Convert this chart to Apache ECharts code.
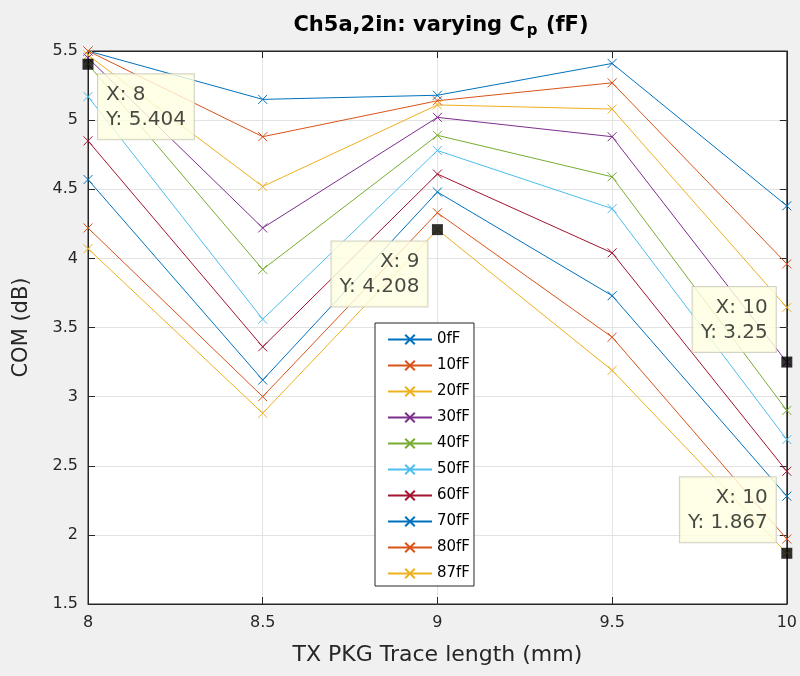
<!DOCTYPE html>
<html>
<head>
<meta charset="utf-8">
<script src="https://cdn.jsdelivr.net/npm/echarts@6/dist/echarts.min.js"></script>
<style>
  html, body { margin: 0; padding: 0; background: #f0f0f0; }
  #chart { width: 800px; height: 676px; }
</style>
</head>
<body>
<div id="chart"></div>
<script>
// TX package trace length (mm)
var traceLength = [8, 8.5, 9, 9.5, 10];

// COM (dB) for each pad capacitance Cp
var seriesNames = ['0fF', '10fF', '20fF', '30fF', '40fF', '50fF', '60fF', '70fF', '80fF', '87fF'];
var com0fF  = [5.50, 5.15, 5.18, 5.41, 4.38];
var com10fF = [5.50, 4.88, 5.14, 5.27, 3.96];
var com20fF = [5.47, 4.52, 5.11, 5.08, 3.645];
var com30fF = [5.45, 4.22, 5.02, 4.88, 3.25];
var com40fF = [5.404, 3.92, 4.89, 4.59, 2.90];
var com50fF = [5.17, 3.56, 4.78, 4.36, 2.69];
var com60fF = [4.85, 3.36, 4.61, 4.04, 2.46];
var com70fF = [4.57, 3.12, 4.48, 3.73, 2.28];
var com80fF = [4.22, 3.00, 4.33, 3.43, 1.97];
var com87fF = [4.07, 2.88, 4.208, 3.19, 1.867];

var xTicks = [8, 8.5, 9, 9.5, 10];
var yTicks = [1.5, 2, 2.5, 3, 3.5, 4, 4.5, 5, 5.5];

var allSeries = [com0fF, com10fF, com20fF, com30fF, com40fF, com50fF, com60fF, com70fF, com80fF, com87fF];

// MATLAB default line color order
var palette = ['#0072BD', '#D95319', '#EDB120', '#7E2F8E', '#77AC30', '#4DBEEE', '#A2142F'];

// Data cursor tips: [series index, point index]
var tipRefs = [[4, 0], [9, 2], [3, 4], [9, 4]];

var FONT = 'DejaVu Sans';
var AXIS_COLOR = '#262626';
var crossSymbol = 'path://M0,0L10,10M10,0L0,10';

var chart = echarts.init(document.getElementById('chart'), null, { renderer: 'canvas' });

var lineSeries = allSeries.map(function (vals, i) {
  var c = palette[i % palette.length];
  return {
    name: seriesNames[i],
    type: 'line',
    data: vals.map(function (v, j) { return [traceLength[j], v]; }),
    symbol: crossSymbol,
    symbolSize: 9,
    showAllSymbol: true,
    color: c,
    itemStyle: { color: c, borderColor: c, borderWidth: 1 },
    lineStyle: { color: c, width: 1 },
    emphasis: { disabled: true },
    clip: true,
    animation: false,
    z: 2
  };
});

// label placement of each tip, relative to its marker
var tipLabelCfg = [
  { position: [15.5, 15.5], align: 'left', verticalAlign: 'top' },
  { position: [-4.5, 17.5], align: 'right', verticalAlign: 'top' },
  { position: [-5.5, -4.5], align: 'right', verticalAlign: 'bottom' },
  { position: [-5.5, -5.5], align: 'right', verticalAlign: 'bottom' }
];

var tipData = tipRefs.map(function (ref, k) {
  var xv = traceLength[ref[1]];
  var yv = allSeries[ref[0]][ref[1]];
  return {
    value: [xv, yv],
    label: {
      show: true,
      formatter: 'X: ' + xv + '\nY: ' + yv,
      position: tipLabelCfg[k].position,
      align: tipLabelCfg[k].align,
      verticalAlign: tipLabelCfg[k].verticalAlign
    }
  };
});

var tipSeries = {
  name: 'datatips',
  type: 'scatter',
  data: tipData,
  symbol: 'rect',
  symbolSize: 11,
  itemStyle: { color: '#000000' },
  clip: false,
  z: 10,
  label: {
    fontFamily: FONT,
    fontSize: 20,
    lineHeight: 25,
    color: '#1a1a1a',
    backgroundColor: '#FFFFE1',
    borderColor: '#c8c8b8',
    borderWidth: 1,
    padding: [8, 8, 7, 8]
  },
  emphasis: { disabled: true },
  animation: false
};

var option = {
  backgroundColor: '#f0f0f0',
  animation: false,
  title: {
    text: '{t|Ch5a,2in: varying C}{s|p}{t| (fF)}',
    left: 436,
    top: 7,
    textAlign: 'center',
    textStyle: {
      rich: {
        t: { fontFamily: FONT, fontSize: 21, fontWeight: 'bold', color: '#000', lineHeight: 27 },
        s: { fontFamily: FONT, fontSize: 15, fontWeight: 'bold', color: '#000', padding: [12, 1, 0, 2], lineHeight: 27 }
      }
    }
  },
  grid: {
    left: 88, right: 11, top: 51, bottom: 72,
    show: true,
    backgroundColor: '#ffffff',
    borderColor: AXIS_COLOR,
    borderWidth: 1
  },
  legend: {
    orient: 'vertical',
    left: 375,
    top: 323,
    data: seriesNames,
    backgroundColor: '#ffffff',
    borderColor: AXIS_COLOR,
    borderWidth: 1,
    padding: [9, 4, 5, 12],
    itemWidth: 44,
    itemHeight: 12,
    itemGap: 11,
    textStyle: { fontFamily: FONT, fontSize: 15, color: '#000' },
    selectedMode: false
  },
  xAxis: [{
    type: 'value',
    min: 8, max: 10, interval: 0.5,
    name: 'TX PKG Trace length (mm)',
    nameLocation: 'middle',
    nameGap: 40,
    nameTextStyle: { fontFamily: FONT, fontSize: 22, color: AXIS_COLOR },
    axisLine: { show: true, onZero: false, lineStyle: { color: AXIS_COLOR } },
    axisTick: { show: true, inside: true, length: 7, lineStyle: { color: AXIS_COLOR } },
    axisLabel: {
      fontFamily: FONT, fontSize: 16, color: AXIS_COLOR, margin: 11,
      formatter: function (v) { return xTicks.indexOf(v) >= 0 ? String(v) : ''; }
    },
    splitLine: { show: true, lineStyle: { color: '#e3e3e3', width: 1 } }
  }, {
    type: 'value', position: 'top',
    min: 8, max: 10, interval: 0.5,
    axisLine: { show: true, onZero: false, lineStyle: { color: AXIS_COLOR } },
    axisTick: { show: true, inside: true, length: 7, lineStyle: { color: AXIS_COLOR } },
    axisLabel: { show: false },
    splitLine: { show: false }
  }],
  yAxis: [{
    type: 'value',
    min: 1.5, max: 5.5, interval: 0.5,
    name: 'COM (dB)',
    nameLocation: 'middle',
    nameGap: 56,
    nameTextStyle: { fontFamily: FONT, fontSize: 21, color: AXIS_COLOR },
    axisLine: { show: true, onZero: false, lineStyle: { color: AXIS_COLOR } },
    axisTick: { show: true, inside: true, length: 7, lineStyle: { color: AXIS_COLOR } },
    axisLabel: {
      fontFamily: FONT, fontSize: 16, color: AXIS_COLOR, margin: 10,
      formatter: function (v) { return yTicks.indexOf(v) >= 0 ? String(v) : ''; }
    },
    splitLine: { show: true, lineStyle: { color: '#e3e3e3', width: 1 } }
  }, {
    type: 'value', position: 'right',
    min: 1.5, max: 5.5, interval: 0.5,
    axisLine: { show: true, onZero: false, lineStyle: { color: AXIS_COLOR } },
    axisTick: { show: true, inside: true, length: 7, lineStyle: { color: AXIS_COLOR } },
    axisLabel: { show: false },
    splitLine: { show: false }
  }],
  series: lineSeries.concat([tipSeries])
};

chart.setOption(option);
</script>
</body>
</html>
